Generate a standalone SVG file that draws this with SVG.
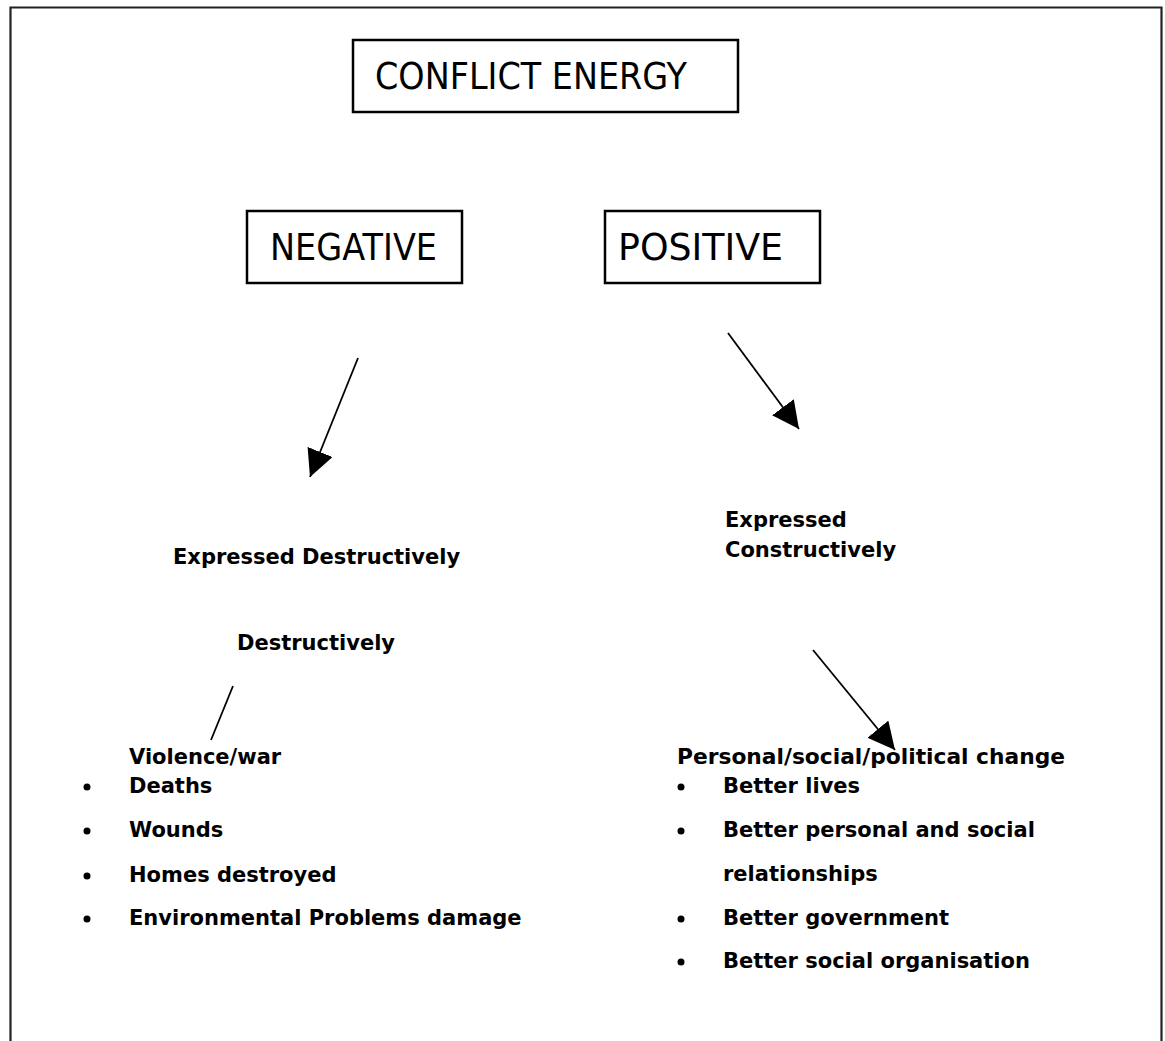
<svg xmlns="http://www.w3.org/2000/svg" width="1165" height="1041" viewBox="0 0 1165 1041">
<style>
.box{fill:#fff;stroke:#000;stroke-width:2.5}
.big{font-family:"DejaVu Sans","Liberation Sans",sans-serif;font-size:38px;fill:#000}
.b{font-family:"DejaVu Sans","Liberation Sans",sans-serif;font-size:21px;font-weight:bold;fill:#000}
.ln{stroke:#000;stroke-width:1.8;fill:none}
.dot{fill:#000}
</style>
<defs>
<marker id="ah" markerUnits="userSpaceOnUse" markerWidth="28" markerHeight="28" refX="27" refY="13.5" orient="auto" viewBox="0 0 28 28">
<path d="M0,0 L27,13.5 L0,27 Z" fill="#000"/>
</marker>
</defs>
<rect width="1165" height="1041" fill="#fff"/>
<path d="M10.5,1041 V7.5 H1161.5 V1041" fill="none" stroke="#222" stroke-width="2.2"/>

<g id="conflict-energy">
<rect class="box" x="353" y="40" width="385" height="72"/>
<text class="big" x="375" y="89" textLength="312" lengthAdjust="spacingAndGlyphs">CONFLICT ENERGY</text>
</g>
<g id="negative">
<rect class="box" x="247" y="211" width="215" height="72"/>
<text class="big" x="270" y="260" textLength="167" lengthAdjust="spacingAndGlyphs">NEGATIVE</text>
</g>
<g id="positive">
<rect class="box" x="605" y="211" width="215" height="72"/>
<text class="big" x="618" y="260" textLength="165" lengthAdjust="spacingAndGlyphs">POSITIVE</text>
</g>

<g id="connectors">
<line class="ln" x1="358" y1="358" x2="310" y2="477" marker-end="url(#ah)"/>
<line class="ln" x1="728" y1="333" x2="799" y2="429" marker-end="url(#ah)"/>
<line class="ln" x1="813" y1="650" x2="895" y2="750" marker-end="url(#ah)"/>
<line class="ln" x1="233" y1="686" x2="211" y2="740"/>
</g>

<g id="expressed-destructively">
<text class="b" x="173" y="564">Expressed Destructively</text>
<text class="b" x="237" y="650">Destructively</text>
</g>
<g id="expressed-constructively">
<text class="b" x="725" y="527">Expressed</text>
<text class="b" x="725" y="557">Constructively</text>
</g>

<g id="violence-war">
<text class="b" x="129" y="764">Violence/war</text>
<circle class="dot" cx="87" cy="787" r="3.5"/>
<text class="b" x="129" y="793">Deaths</text>
<circle class="dot" cx="87" cy="831" r="3.5"/>
<text class="b" x="129" y="837">Wounds</text>
<circle class="dot" cx="87" cy="876" r="3.5"/>
<text class="b" x="129" y="882">Homes destroyed</text>
<circle class="dot" cx="87" cy="919" r="3.5"/>
<text class="b" x="129" y="925">Environmental Problems damage</text>
</g>

<g id="change">
<text class="b" x="677" y="764" textLength="388" lengthAdjust="spacingAndGlyphs">Personal/social/political change</text>
<circle class="dot" cx="681" cy="787" r="3.5"/>
<text class="b" x="723" y="793">Better lives</text>
<circle class="dot" cx="681" cy="831" r="3.5"/>
<text class="b" x="723" y="837">Better personal and social</text>
<text class="b" x="723" y="881">relationships</text>
<circle class="dot" cx="681" cy="919" r="3.5"/>
<text class="b" x="723" y="925">Better government</text>
<circle class="dot" cx="681" cy="962" r="3.5"/>
<text class="b" x="723" y="968">Better social organisation</text>
</g>
</svg>
